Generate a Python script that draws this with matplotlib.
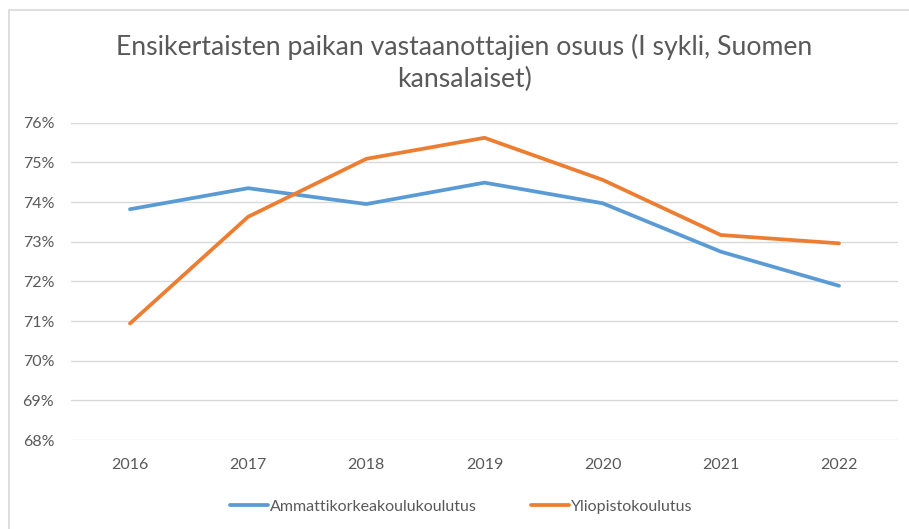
import matplotlib.pyplot as plt
from matplotlib.patches import Rectangle
from matplotlib.ticker import PercentFormatter

# --- data ---
years = ["2016", "2017", "2018", "2019", "2020", "2021", "2022"]
amk = [73.82, 74.35, 73.95, 74.49, 73.97, 72.75, 71.89]
yliopisto = [70.94, 73.63, 75.09, 75.62, 74.56, 73.17, 72.96]
series_names = ["Ammattikorkeakoulukoulutus", "Yliopistokoulutus"]
title = "Ensikertaisten paikan vastaanottajien osuus (I sykli, Suomen\nkansalaiset)"

plt.rcParams["font.family"] = ["Lato", "DejaVu Sans"]
text_col = "#595959"
grid_col = "#d9d9d9"

fig = plt.figure(figsize=(9.09, 5.29), dpi=100)
ax = fig.add_axes([0.078, 0.168, 0.910, 0.600])

# outer chart border (Excel style)
fig.patches.append(Rectangle((9 / 909, -0.1), 1.2, 1 - 10 / 529 + 0.1,
                             transform=fig.transFigure, fill=False,
                             edgecolor=grid_col, linewidth=1.2))

x = range(len(years))
ax.plot(x, amk, color="#5B9BD5", lw=2.7, solid_capstyle="round",
        solid_joinstyle="round", label=series_names[0])
ax.plot(x, yliopisto, color="#ED7D31", lw=2.7, solid_capstyle="round",
        solid_joinstyle="round", label=series_names[1])

ax.set_xlim(-0.5, len(years) - 0.5)
ax.set_ylim(68, 76)
ax.set_yticks(range(68, 77))
ax.yaxis.set_major_formatter(PercentFormatter(decimals=0))
ax.set_xticks(list(x))
ax.set_xticklabels(years)
ax.grid(axis="y", color=grid_col, lw=1.0)
ax.set_axisbelow(True)
for s in ax.spines.values():
    s.set_visible(False)
ax.tick_params(length=0, labelsize=11.5, colors=text_col)
ax.tick_params(axis="y", pad=12)
ax.tick_params(axis="x", pad=13)

fig.text(0.511, 1 - 63 / 529, title, ha="center", va="center",
         fontsize=19.2, color=text_col, linespacing=1.35)

ax.legend(loc="center", bbox_to_anchor=(0.4715, -0.21), ncol=2, frameon=False,
          fontsize=11.5, handlelength=2.4, handletextpad=0.1, columnspacing=3.4,
          labelcolor=text_col)

fig.savefig("out.png", dpi=100)
